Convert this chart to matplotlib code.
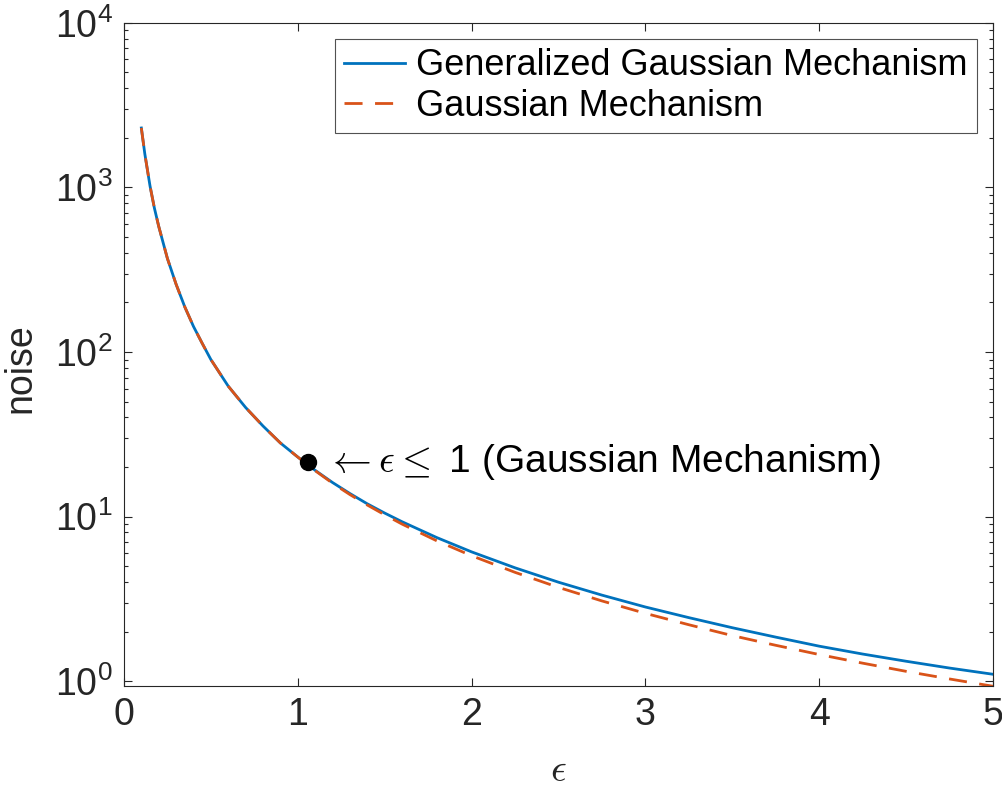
import numpy as np
import matplotlib
matplotlib.use("Agg")
import matplotlib.pyplot as plt
from matplotlib.ticker import LogLocator, FixedLocator, NullFormatter, FuncFormatter

plt.rcParams['font.family'] = ['Liberation Sans', 'DejaVu Sans']
plt.rcParams['mathtext.fontset'] = 'cm'

# values
eps = [0.1, 0.12, 0.15, 0.175, 0.2, 0.25, 0.3, 0.35, 0.4, 0.45, 0.5, 0.6, 0.7,
       0.8, 0.9, 1.0, 1.1, 1.2, 1.3, 1.4, 1.5, 1.6, 1.8, 2.0, 2.25, 2.5,
       2.75, 3.0, 3.25, 3.5, 3.75, 4.0, 4.25, 4.5, 4.75, 5.0]
noise_generalized = [2300, 1600, 1020, 750, 580, 370, 258, 188, 143, 113, 90,
                     62, 46, 35.5, 28, 23, 19.1, 16.1, 13.8, 11.95, 10.5, 9.3,
                     7.45, 6.1, 4.88, 3.99, 3.33, 2.82, 2.43, 2.11, 1.85, 1.63,
                     1.46, 1.32, 1.20, 1.10]
noise_gaussian = [2300, 1600, 1020, 750, 580, 370, 258, 188, 143, 113, 90,
                  62, 46, 35.5, 28, 23, 19.0, 15.95, 13.6, 11.75, 10.25, 9.0,
                  7.12, 5.78, 4.58, 3.71, 3.07, 2.58, 2.2, 1.89, 1.65, 1.45,
                  1.285, 1.146, 1.03, 0.93]
point_eps = 1.06
point_noise = 21.4
legend_labels = ['Generalized Gaussian Mechanism', 'Gaussian Mechanism']
annot_text = r'$\leftarrow \epsilon \leq$ 1 (Gaussian Mechanism)'

blue = '#0072BD'
orange = '#D95319'
dark = '#262626'

fig = plt.figure(figsize=(10.03, 7.92), dpi=100)
ax = fig.add_axes([0.1236, 0.1338, 0.8664, 0.8372])

ax.plot(eps, noise_generalized, color=blue, lw=2.0, label=legend_labels[0])
ax.plot(eps, noise_gaussian, color=orange, lw=2.0, dashes=(6.5, 4.5),
        label=legend_labels[1])
ax.plot([point_eps], [point_noise], 'o', color='black', ms=11.5)
ax.text(1.16, point_noise, annot_text, fontsize=28, va='center', ha='left',
        color='black')

ax.set_yscale('log')
ax.set_xlim(0, 5)
ax.set_ylim(0.933, 1e4)

ax.xaxis.set_major_locator(FixedLocator([0, 1, 2, 3, 4, 5]))
ax.yaxis.set_major_locator(LogLocator(base=10, numticks=10))
ax.yaxis.set_minor_locator(LogLocator(base=10, subs=np.arange(2, 10), numticks=20))
ax.yaxis.set_minor_formatter(NullFormatter())
ax.yaxis.set_major_formatter(FuncFormatter(
    lambda v, p: r'$\mathregular{10^{%d}}$' % int(round(np.log10(v)))))

ax.tick_params(which='both', direction='in', top=True, right=True,
               color=dark, labelcolor=dark, width=0.8)
ax.tick_params(which='major', length=6, labelsize=27, pad=8)
ax.tick_params(which='minor', length=3)
for s in ax.spines.values():
    s.set_color(dark)
    s.set_linewidth(0.8)

ax.set_xlabel(r'$\epsilon$', fontsize=28, color=dark, labelpad=14)
ax.set_ylabel('noise', fontsize=27, color=dark)
ax.yaxis.set_label_coords(-0.098, 0.48)

leg = ax.legend(loc='upper right', fontsize=26, frameon=True, fancybox=False,
                edgecolor=dark, borderpad=0.25, handlelength=1.7,
                handletextpad=0.3, labelspacing=0.15, borderaxespad=0.45)
leg.get_frame().set_linewidth(0.8)

fig.savefig('out.png', dpi=100)
